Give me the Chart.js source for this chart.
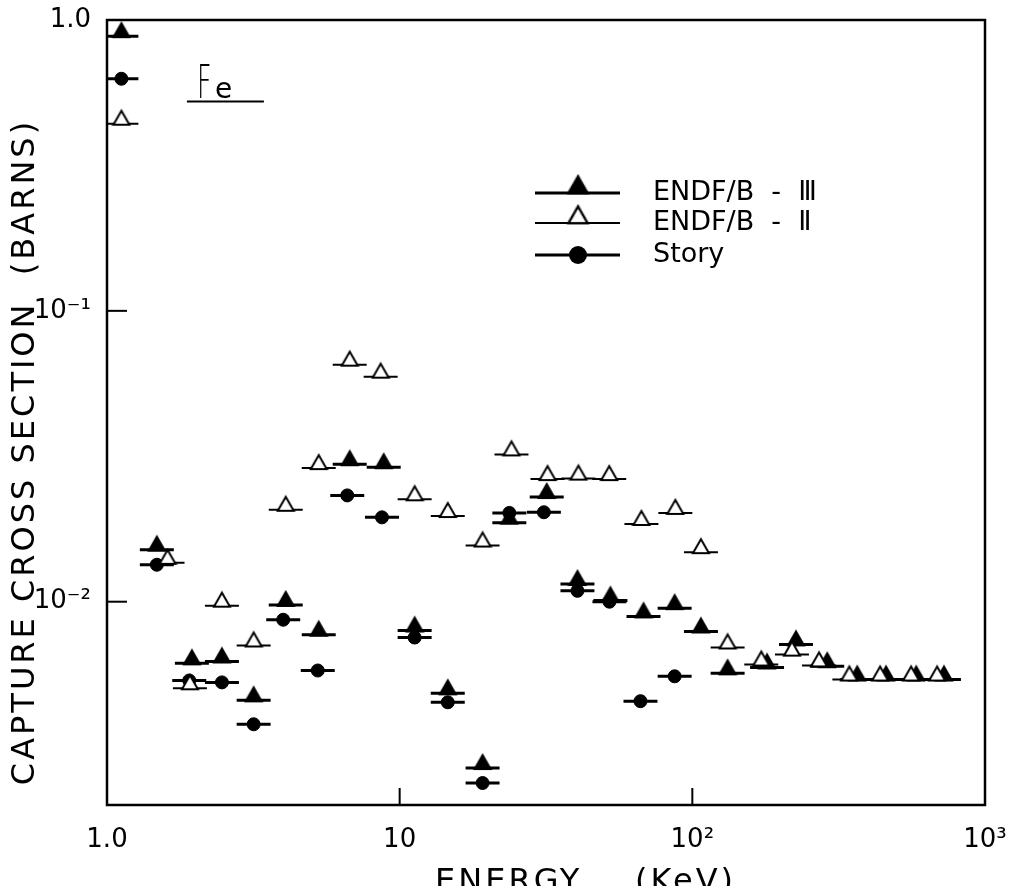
<!DOCTYPE html>
<html>
<head>
<meta charset="utf-8">
<script src="https://cdn.jsdelivr.net/npm/chart.js@4.4.1/dist/chart.umd.min.js"></script>
<style>
  body { margin: 0; background: #fff; }
  #wrap { width: 1011px; height: 886px; }
</style>
</head>
<body>
<div id="wrap"><canvas id="chart" width="1011" height="886"></canvas></div>
<script>
'use strict'

// energy group centres (keV) and capture cross sections (barns)
var energyIII = [1.12, 1.48, 1.95, 2.47, 3.17, 4.08, 5.29, 6.75, 8.82, 11.25, 14.6, 19.2, 23.7, 31.8, 40.5, 52.5, 68.1, 87, 107, 132, 180, 226, 289, 366, 459, 582, 724];
var sigmaIII = [0.88, 0.0151, 0.00614, 0.00623, 0.00458, 0.00975, 0.0077, 0.0297, 0.029, 0.00796, 0.00484, 0.00268, 0.0187, 0.0229, 0.0115, 0.0101, 0.0089, 0.0095, 0.0079, 0.00567, 0.00594, 0.00713, 0.0060, 0.0054, 0.0054, 0.0054, 0.0054];

var energyII = [1.12, 1.61, 1.92, 2.47, 3.17, 4.08, 5.29, 6.75, 8.61, 11.25, 14.6, 19.2, 24.1, 32, 40.8, 52, 67, 87.5, 107, 132, 172, 219, 271, 344, 438, 559, 686];
var sigmaII = [0.44, 0.0136, 0.00504, 0.00969, 0.00707, 0.0207, 0.0288, 0.0653, 0.0594, 0.0225, 0.0197, 0.0156, 0.0321, 0.0264, 0.0265, 0.0264, 0.0185, 0.0202, 0.0148, 0.00696, 0.00608, 0.00658, 0.00604, 0.0054, 0.0054, 0.0054, 0.0054];

var energyStory = [1.12, 1.48, 1.91, 2.47, 3.17, 4.0, 5.25, 6.62, 8.7, 11.25, 14.6, 19.2, 23.7, 31.1, 40.5, 52.1, 66.5, 87];
var sigmaStory = [0.628, 0.0134, 0.00536, 0.00528, 0.00379, 0.00867, 0.0058, 0.0232, 0.0195, 0.00753, 0.00451, 0.00238, 0.0202, 0.0203, 0.0109, 0.0100, 0.00455, 0.00554];

var seriesNames = ['ENDF/B  -  \u2162', 'ENDF/B  -  \u2161', 'Story'];

var xTicks = [1, 10, 100, 1000];
var xTickLabels = ['1.0', '10', '10\u00B2', '10\u00B3'];
var yTicks = [0.01, 0.1, 1];
var yTickLabels = ['10\u207B\u00B2', '10\u207B\u00B9', '1.0'];

// half width of an energy group (ratio)
var BIN = 1.143;
var FONT = '"DejaVu Sans", sans-serif';

function bars (xs, ys) {
	var pts = [];
	xs.forEach(function (x, i) {
		pts.push({x: x / BIN, y: ys[i]}, {x: x * BIN, y: ys[i]}, {x: x * BIN, y: null});
	});
	return pts;
}

function marks (xs, ys) {
	return xs.map(function (x, i) { return {x: x, y: ys[i]}; });
}

// triangle sitting on the bar line
function triangleImage (fill) {
	var c = document.createElement('canvas');
	c.width = 20; c.height = 36;
	var g = c.getContext('2d');
	g.beginPath();
	g.moveTo(10, 5);
	g.lineTo(18, 19);
	g.lineTo(2, 19);
	g.closePath();
	g.fillStyle = fill;
	g.fill();
	g.lineWidth = 2;
	g.strokeStyle = '#000';
	g.stroke();
	return c;
}

var triFilled = triangleImage('#000');
var triOpen = triangleImage('#fff');

// spaced lettering for the axis titles only
var spacedTitles = {
	id: 'spacedTitles',
	beforeDraw: function (chart) {
		['x', 'y'].forEach(function (id) {
			var s = chart.scales[id];
			if (s._spaced) return;
			var orig = s.drawTitle;
			s.drawTitle = function () {
				var ctx = this.ctx;
				var old = ctx.letterSpacing;
				ctx.letterSpacing = '3px';
				orig.apply(this, arguments);
				ctx.letterSpacing = old || '0px';
			};
			s._spaced = true;
		});
	}
};

var framePlugin = {
	id: 'frame',
	afterDatasetsDraw: function (chart) {
		var ctx = chart.ctx,
			a = chart.chartArea,
			sx = chart.scales.x,
			sy = chart.scales.y;
		ctx.save();
		ctx.strokeStyle = '#000';
		ctx.lineWidth = 2.5;
		ctx.strokeRect(a.left, a.top, a.right - a.left, a.bottom - a.top);
		ctx.lineWidth = 2;
		[10, 100].forEach(function (v) {
			var px = sx.getPixelForValue(v);
			ctx.beginPath(); ctx.moveTo(px, a.bottom); ctx.lineTo(px, a.bottom - 17); ctx.stroke();
		});
		[0.1, 0.01].forEach(function (v) {
			var py = sy.getPixelForValue(v);
			ctx.beginPath(); ctx.moveTo(a.left, py); ctx.lineTo(a.left + 20, py); ctx.stroke();
		});

		// Fe label
		var fx = sx.getPixelForValue(1.92), fy = sy.getPixelForValue(0.525);
		ctx.fillStyle = '#000';
		ctx.textBaseline = 'alphabetic';
		ctx.save();
		ctx.translate(fx + 7, fy - 3);
		ctx.scale(0.55, 1);
		ctx.font = '200 46px ' + FONT;
		ctx.fillText('F', 0, 0);
		ctx.restore();
		ctx.font = '28px ' + FONT;
		ctx.fillText('e', fx + 25, fy - 3);
		ctx.lineWidth = 2;
		ctx.beginPath(); ctx.moveTo(fx - 3, fy); ctx.lineTo(fx + 74, fy); ctx.stroke();

		// legend
		var lx0 = 535, lx1 = 620, mx = 578, tx = 653, ly = [193, 223, 255];
		ctx.font = '27px ' + FONT;
		ctx.textBaseline = 'middle';
		seriesNames.forEach(function (name, i) {
			ctx.lineWidth = i === 1 ? 2 : 3;
			ctx.beginPath(); ctx.moveTo(lx0, ly[i]); ctx.lineTo(lx1, ly[i]); ctx.stroke();
			if (i === 2) {
				ctx.beginPath(); ctx.arc(mx, ly[i], 9, 0, Math.PI * 2); ctx.fill();
			} else {
				var img = i === 0 ? triFilled : triOpen;
				ctx.drawImage(img, mx - img.width * 0.6, ly[i] - img.height * 0.6 - 1, img.width * 1.2, img.height * 1.2);
			}
			ctx.fillText(name, tx, ly[i]);
		});
		ctx.restore();
	}
};

function barSet (xs, ys, width) {
	return {type: 'line', data: bars(xs, ys), borderColor: '#000', borderWidth: width, pointRadius: 0, spanGaps: false, fill: false, order: 2};
}

function markSet (xs, ys, style, radius, bg) {
	return {type: 'scatter', data: marks(xs, ys), pointStyle: style, pointRadius: radius, pointBackgroundColor: bg, pointBorderColor: '#000', pointBorderWidth: 1, order: 1};
}

var chart = new Chart(document.getElementById('chart'), {
	data: {
		datasets: [
			barSet(energyII, sigmaII, 2),
			barSet(energyIII, sigmaIII, 3),
			barSet(energyStory, sigmaStory, 3),
			markSet(energyII, sigmaII, triOpen, 8, '#fff'),
			markSet(energyIII, sigmaIII, triFilled, 8, '#000'),
			markSet(energyStory, sigmaStory, 'circle', 6.5, '#000')
		]
	},
	options: {
		responsive: false,
		animation: false,
		layout: {padding: {top: 20, right: 26, left: 0, bottom: 0}},
		plugins: {legend: {display: false}, tooltip: {enabled: false}},
		scales: {
			x: {
				type: 'logarithmic', min: 1, max: 1000,
				afterBuildTicks: function (s) { s.ticks = xTicks.map(function (v) { return {value: v}; }); },
				afterFit: function (s) { s.height = 81; s.paddingLeft = 0; s.paddingRight = 0; },
				ticks: {
					autoSkip: false, maxRotation: 0, padding: 12, color: '#000',
					font: {family: FONT, size: 26},
					callback: function (v) { return xTickLabels[xTicks.indexOf(v)]; }
				},
				grid: {display: false},
				border: {display: false},
				title: {display: true, text: '      ENERGY    (KeV)', color: '#000', font: {family: FONT, size: 32}, padding: {top: 0, bottom: -16}}
			},
			y: {
				type: 'logarithmic', min: 0.002, max: 1,
				afterBuildTicks: function (s) { s.ticks = yTicks.map(function (v) { return {value: v}; }); },
				afterFit: function (s) { s.width = 107; s.paddingTop = 0; s.paddingBottom = 0; },
				ticks: {
					autoSkip: false, padding: 8, color: '#000',
					font: {family: FONT, size: 26},
					callback: function (v) { return yTickLabels[yTicks.indexOf(v)]; }
				},
				grid: {display: false},
				border: {display: false},
				title: {display: true, text: 'CAPTURE CROSS SECTION  (BARNS)      ', color: '#000', font: {family: FONT, size: 32}, padding: {top: 6, bottom: 0}}
			}
		}
	},
	plugins: [spacedTitles, framePlugin]
});
</script>
</body>
</html>
